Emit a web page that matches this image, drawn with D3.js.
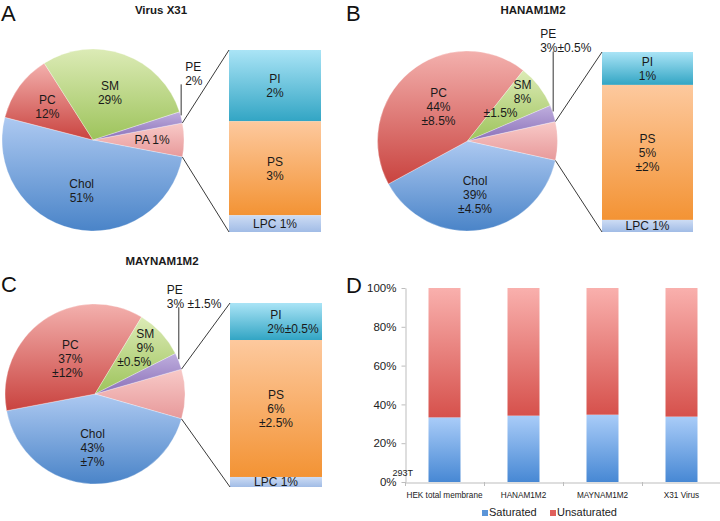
<!DOCTYPE html>
<html>
<head>
<meta charset="utf-8">
<script src="https://cdn.jsdelivr.net/npm/d3@7"></script>
<style>
  html, body { margin: 0; padding: 0; background: #fff; }
  svg { display: block; font-family: "Liberation Sans", Arial, sans-serif; }
</style>
</head>
<body>
<svg id="chart" width="720" height="521"></svg>
<script>
// ---------------- DATA ----------------
// Pie slices, clockwise starting with the combined "other" wedge (shown in the bar)
const pieSlices = ["Other", "Chol", "PC", "SM", "PE"];
const pieA = [6, 51, 12, 29, 2];
const pieB = [7, 39, 44, 8, 3];
const pieC = [9, 43, 37, 9, 3];
const pieLabelsA = ["PA 1%", "Chol\n51%", "PC\n12%", "SM\n29%", "PE\n2%"];
const pieLabelsB = ["", "Chol\n39%\n±4.5%", "PC\n44%\n±8.5%", "SM\n8%\n±1.5%", "PE\n3%±0.5%"];
const pieLabelsC = ["", "Chol\n43%\n±7%", "PC\n37%\n±12%", "SM\n9%\n±0.5%", "PE\n3% ±1.5%"];

// Secondary bar (top to bottom), heights as they appear in the picture
const barSegments = ["PI", "PS", "LPC"];
const barA = [2.35, 3.1, 0.55];
const barB = [1.28, 5.25, 0.47];
const barC = [1.81, 6.7, 0.49];
const barLabelsA = ["PI\n2%", "PS\n3%", "LPC 1%"];
const barLabelsB = ["PI\n1%", "PS\n5%\n±2%", "LPC 1%"];
const barLabelsC = ["PI\n2%±0.5%", "PS\n6%\n±2.5%", "LPC 1%"];

const pieTitles = ["Virus X31", "HANAM1M2", "MAYNAM1M2"];
const panelLetters = ["A", "B", "C", "D"];

// Panel D
const dCategories = ["HEK total membrane", "HANAM1M2", "MAYNAM1M2", "X31 Virus"];
const saturated = [33.3, 34.2, 34.7, 33.7];
const unsaturated = [66.7, 65.8, 65.3, 66.3];
const dTicks = [0, 20, 40, 60, 80, 100];
const legendLabels = ["Saturated", "Unsaturated"];

// ---------------- STYLE ----------------
const grad = {
  Other: ["#f8cac8", "#e7999a"],
  Chol:  ["#adc9f1", "#4a84c8"],
  PC:    ["#f3b0ad", "#c9433f"],
  SM:    ["#dcebb6", "#9dc35b"],
  PE:    ["#bfaede", "#8a70b8"],
  PI:    ["#aae4f6", "#32a5c4"],
  PS:    ["#fdc99e", "#f39334"],
  LPC:   ["#cddcf4", "#a1bce6"],
  Saturated:   ["#a9ccf8", "#4788d4"],
  Unsaturated: ["#f9b0ad", "#d6514c"]
};

const svg = d3.select("#chart");
const defs = svg.append("defs");
Object.entries(grad).forEach(([k, [c1, c2]]) => {
  const g = defs.append("linearGradient").attr("id", "g-" + k)
    .attr("x1", 0).attr("y1", 0).attr("x2", 0).attr("y2", 1);
  g.append("stop").attr("offset", "0%").attr("stop-color", c1);
  g.append("stop").attr("offset", "100%").attr("stop-color", c2);
});

function addLines(g, x, y, text, opts = {}) {
  const lines = text.split("\n");
  const lh = opts.lh || 14;
  const dxs = opts.dxs || [];
  const t = g.append("text")
    .attr("font-size", opts.size || 12)
    .attr("fill", opts.fill || "#1a1a1a")
    .attr("text-anchor", opts.anchor || "middle");
  lines.forEach((ln, i) => {
    t.append("tspan")
      .attr("x", x + (dxs[i] || 0))
      .attr("y", y - (lines.length - 1) * lh / 2 + i * lh)
      .attr("dy", "0.36em")
      .text(ln);
  });
  return t;
}

// ---------------- PIE-OF-BAR PANELS ----------------
const panels = [
  { values: pieA, labels: pieLabelsA, bar: barA, barLabels: barLabelsA, title: pieTitles[0],
    cx: 93, cy: 140, r: 91, barX: 229, barW: 92, barTop: 50, barBot: 232,
    k: [0.65, 0.57, 0.62, 0.55, 0], labelDx: [[], [], [], [], []],
    peLen: 33, peDx: 4, barDx: [[], [], []],
    titleX: 161, titleY: 14 },
  { values: pieB, labels: pieLabelsB, bar: barB, barLabels: barLabelsB, title: pieTitles[1],
    cx: 467.5, cy: 141, r: 90, barX: 602, barW: 91, barTop: 52, barBot: 232,
    k: [0, 0.6, 0.5, 0.77, 0], labelDx: [[], [], [], [0, 0, -22], []],
    peLen: 62, peDx: -13, barDx: [[], [], []],
    titleX: 533, titleY: 14 },
  { values: pieC, labels: pieLabelsC, bar: barC, barLabels: barLabelsC, title: pieTitles[2],
    cx: 95, cy: 394, r: 90, barX: 230, barW: 92, barTop: 303, barBot: 487,
    k: [0, 0.6, 0.48, 0.76, 0], labelDx: [[], [], [0, 0, -3], [0, 0, -11], []],
    peLen: 54, peDx: -12, barDx: [[0, 17], [], []],
    titleX: 162, titleY: 265 }
];

panels.forEach(p => {
  const g = svg.append("g");
  const total = d3.sum(p.values);
  const s = Math.PI / 2 - (p.values[0] / total) * Math.PI;
  const arcs = d3.pie().sort(null).value(d => d).startAngle(s).endAngle(s + 2 * Math.PI)(p.values);
  const arc = d3.arc().innerRadius(0).outerRadius(p.r);
  const pg = g.append("g").attr("transform", `translate(${p.cx},${p.cy})`);
  pg.selectAll("path").data(arcs).join("path")
    .attr("d", arc)
    .attr("fill", (d, i) => `url(#g-${pieSlices[i]})`)
    .attr("stroke", "#ffffff").attr("stroke-width", 0.3);

  const polar = (a, rr) => [p.cx + rr * Math.sin(a), p.cy - rr * Math.cos(a)];

  // Inner labels
  arcs.forEach((d, i) => {
    const txt = p.labels[i];
    if (!txt) return;
    const mid = (d.startAngle + d.endAngle) / 2;
    if (pieSlices[i] === "PE") {
      const [ex, ey] = polar(mid, p.r);
      g.append("line").attr("x1", ex).attr("y1", ey - 2).attr("x2", ex).attr("y2", ey - p.peLen)
        .attr("stroke", "#333").attr("stroke-width", 1);
      const lines = txt.split("\n");
      addLines(g, ex + p.peDx, ey - p.peLen - 4 - (lines.length - 1) * 7, txt, { anchor: "start" });
    } else {
      const [lx, ly] = polar(mid, p.r * p.k[i]);
      addLines(g, lx, ly, txt, { dxs: p.labelDx[i] });
    }
  });

  // Secondary bar
  const y = d3.scaleLinear().domain([0, d3.sum(p.bar)]).range([p.barTop, p.barBot]);
  const cum = d3.cumsum(p.bar);
  p.bar.forEach((v, i) => {
    const y0 = y(cum[i] - v), y1 = y(cum[i]);
    g.append("rect").attr("x", p.barX).attr("y", y0).attr("width", p.barW).attr("height", y1 - y0)
      .attr("fill", `url(#g-${barSegments[i]})`);
    addLines(g, p.barX + p.barW / 2, (y0 + y1) / 2, p.barLabels[i], { dxs: p.barDx[i] });
  });

  // Connector lines
  const a0 = arcs[0].startAngle, a1 = arcs[0].endAngle;
  const [x0, y0] = polar(a0, p.r), [x1, y1] = polar(a1, p.r);
  g.append("line").attr("x1", x0).attr("y1", y0).attr("x2", p.barX).attr("y2", p.barTop)
    .attr("stroke", "#3a3a3a").attr("stroke-width", 1);
  g.append("line").attr("x1", x1).attr("y1", y1).attr("x2", p.barX).attr("y2", p.barBot)
    .attr("stroke", "#3a3a3a").attr("stroke-width", 1);

  // Title
  g.append("text").attr("x", p.titleX).attr("y", p.titleY).attr("text-anchor", "middle")
    .attr("font-size", 11.5).attr("font-weight", "bold").attr("fill", "#1a1a1a").text(p.title);
});

// Panel letters
const letterPos = [[1, 21], [346, 21], [1, 292], [346, 293]];
panelLetters.forEach((L, i) => {
  svg.append("text").attr("x", letterPos[i][0]).attr("y", letterPos[i][1])
    .attr("font-size", 22).attr("fill", "#111").text(L);
});

// ---------------- PANEL D ----------------
const dg = svg.append("g");
const x = d3.scaleBand().domain(dCategories).range([405, 721]).paddingInner(0.595).paddingOuter(0.2975);
const yD = d3.scaleLinear().domain([0, 100]).range([482, 288]);

dCategories.forEach((c, i) => {
  dg.append("rect").attr("x", x(c)).attr("width", x.bandwidth())
    .attr("y", yD(saturated[i])).attr("height", yD(0) - yD(saturated[i]))
    .attr("fill", "url(#g-Saturated)");
  dg.append("rect").attr("x", x(c)).attr("width", x.bandwidth())
    .attr("y", yD(saturated[i] + unsaturated[i])).attr("height", yD(saturated[i]) - yD(saturated[i] + unsaturated[i]))
    .attr("fill", "url(#g-Unsaturated)");
});

const yAxis = dg.append("g").attr("transform", "translate(405.5,0)")
  .call(d3.axisLeft(yD).tickValues(dTicks).tickFormat(d => d + "%").tickSize(4).tickPadding(5).tickSizeOuter(0));
yAxis.select(".domain").attr("stroke", "#bdbdbd");
yAxis.selectAll(".tick line").attr("stroke", "#bdbdbd");
yAxis.selectAll(".tick text").attr("font-size", 11.5).attr("fill", "#222")
  .attr("font-family", "Liberation Sans, Arial, sans-serif");

const xAxis = dg.append("g").attr("transform", "translate(0,482.5)")
  .call(d3.axisBottom(x).tickSize(0).tickPadding(10).tickSizeOuter(0));
xAxis.select(".domain").attr("stroke", "#bdbdbd");
xAxis.selectAll(".tick text").attr("font-size", 8.2).attr("fill", "#222")
  .attr("font-family", "Liberation Sans, Arial, sans-serif");
dCategories.forEach(c => {
  const bx = Math.round(x(c) - (x.step() - x.bandwidth()) / 2) + 0.5;
  dg.append("line").attr("x1", bx).attr("x2", bx).attr("y1", 482).attr("y2", 486)
    .attr("stroke", "#bdbdbd");
});

dg.append("text").attr("x", 413).attr("y", 476).attr("text-anchor", "end")
  .attr("font-size", 9).attr("fill", "#222").text("293T");

// Legend
const legX = [482, 550];
legendLabels.forEach((L, i) => {
  dg.append("rect").attr("x", legX[i]).attr("y", 510).attr("width", 6).attr("height", 6)
    .attr("fill", i === 0 ? "#5b95d8" : "#e0605b");
  dg.append("text").attr("x", legX[i] + 7).attr("y", 516).attr("font-size", 11)
    .attr("fill", "#222").text(L);
});
</script>
</body>
</html>
